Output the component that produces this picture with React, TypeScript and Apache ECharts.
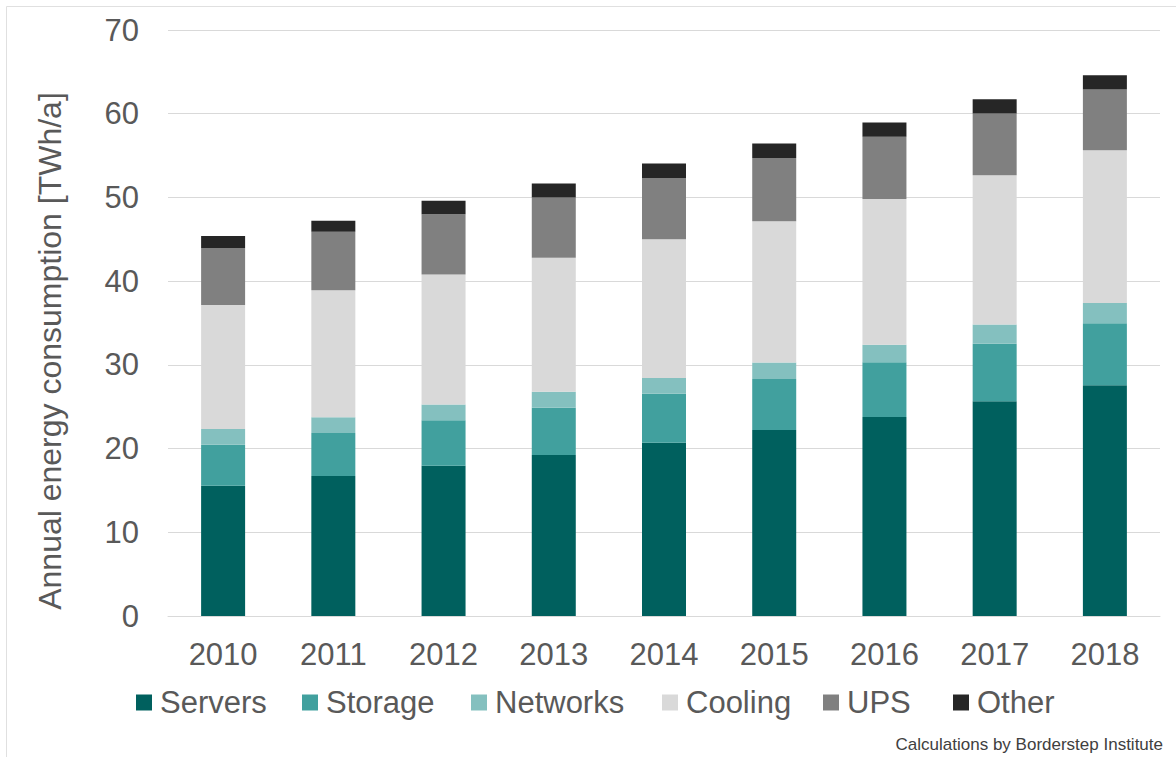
import React, { useEffect, useRef } from "react";
import * as echarts from "echarts";

const years = ["2010", "2011", "2012", "2013", "2014", "2015", "2016", "2017", "2018"];
const servers = [15.57, 16.73, 17.96, 19.24, 20.71, 22.22, 23.78, 25.65, 27.57];
const storage = [4.9, 5.13, 5.42, 5.65, 5.85, 6.1, 6.52, 6.87, 7.39];
const networks = [1.87, 1.88, 1.87, 1.91, 1.87, 1.95, 2.1, 2.31, 2.44];
const cooling = [14.82, 15.16, 15.55, 16.0, 16.57, 16.88, 17.42, 17.81, 18.23];
const ups = [6.81, 7.0, 7.2, 7.2, 7.33, 7.57, 7.43, 7.38, 7.25];
const other = [1.43, 1.3, 1.6, 1.65, 1.71, 1.71, 1.71, 1.71, 1.71];

const seriesNames = ["Servers", "Storage", "Networks", "Cooling", "UPS", "Other"];
const seriesData = [servers, storage, networks, cooling, ups, other];
const colors = ["#00605E", "#41A09E", "#84C0BF", "#D9D9D9", "#808080", "#262626"];
const legendLefts = [136, 302, 471, 662, 823, 953];

const yAxisTitle = "Annual energy consumption [TWh/a]";
const caption = "Calculations by Borderstep Institute";

const FONT = "'Liberation Sans', Arial, sans-serif";

export default function App() {
  const ref = useRef<HTMLDivElement>(null);
  useEffect(() => {
    document.body.style.margin = "0";
    if (!ref.current) return;
    const chart = echarts.init(ref.current, null, { renderer: "svg" });
    chart.setOption({
      animation: false,
      backgroundColor: "#ffffff",
      textStyle: { fontFamily: FONT },
      grid: { left: 168, right: 16, top: 30, bottom: 141, containLabel: false },
      legend: seriesNames.map((n, i) => ({
        data: [n],
        left: legendLefts[i],
        top: 687,
        padding: 0,
        itemWidth: 16,
        itemHeight: 16,
        icon: "rect",
        selectedMode: false,
        textStyle: {
          fontFamily: FONT,
          fontSize: 31,
          color: "#595959",
          lineHeight: 31,
          padding: [0, 0, 0, 3],
        },
      })),
      xAxis: {
        type: "category",
        data: years,
        axisLine: { show: true, lineStyle: { color: "#D9D9D9", width: 1 } },
        axisTick: { show: false },
        axisLabel: {
          fontFamily: FONT,
          fontSize: 31,
          lineHeight: 31,
          color: "#595959",
          margin: 23,
        },
      },
      yAxis: {
        type: "value",
        min: 0,
        max: 70,
        interval: 10,
        axisLine: { show: false },
        axisTick: { show: false },
        splitLine: { lineStyle: { color: "#D9D9D9", width: 1 } },
        axisLabel: {
          fontFamily: FONT,
          fontSize: 31,
          color: "#595959",
          margin: 29,
        },
      },
      series: seriesNames.map((n, i) => ({
        name: n,
        type: "bar",
        stack: "total",
        barWidth: 44,
        data: seriesData[i],
        itemStyle: { color: colors[i] },
      })),
      graphic: [
        {
          type: "rect",
          left: 4,
          top: 4,
          shape: { x: 0, y: 0, width: 1200, height: 800 },
          style: { fill: "none", stroke: "#E0E0E0", lineWidth: 1 },
          silent: true,
          z: -1,
        },
        {
          type: "text",
          x: 50,
          y: 351,
          rotation: Math.PI / 2,
          style: {
            text: yAxisTitle,
            fontFamily: FONT,
            fontSize: 32,
            fill: "#595959",
            align: "center",
            verticalAlign: "middle",
          },
        },
        {
          type: "text",
          x: 1163,
          y: 744,
          style: {
            text: caption,
            fontFamily: FONT,
            fontSize: 17,
            fill: "#404040",
            align: "right",
            verticalAlign: "middle",
          },
        },
      ],
    });
    return () => chart.dispose();
  }, []);
  return <div ref={ref} style={{ width: 1176, height: 757 }} />;
}
